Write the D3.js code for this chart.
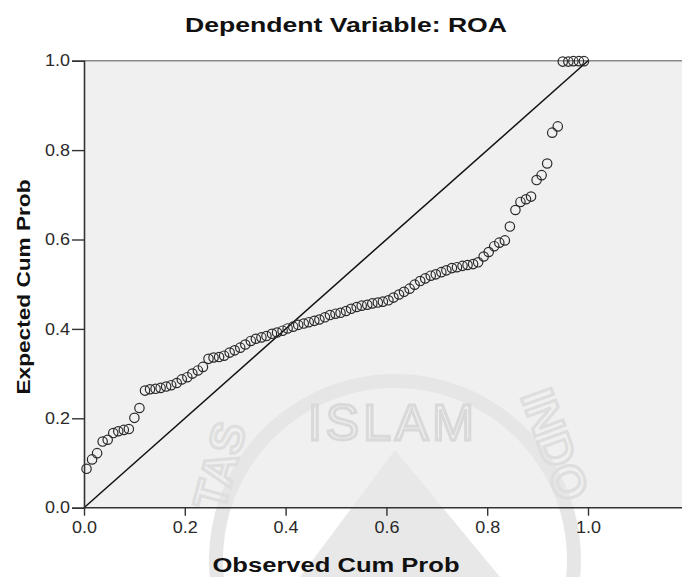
<!DOCTYPE html>
<html>
<head>
<meta charset="utf-8">
<script src="https://cdn.jsdelivr.net/npm/d3@7"></script>
<style>
  body { margin: 0; background: #fff; }
  svg { display: block; font-family: "Liberation Sans", Arial, sans-serif; }
</style>
</head>
<body>
<div id="chart"></div>
<script>
// P-P plot values
var observed = [0.005,0.016,0.026,0.037,0.047,0.058,0.068,0.079,0.089,0.100,
  0.110,0.121,0.131,0.142,0.152,0.163,0.173,0.184,0.194,0.205,
  0.215,0.226,0.236,0.247,0.257,0.268,0.278,0.289,0.299,0.310,
  0.320,0.331,0.341,0.352,0.362,0.373,0.383,0.394,0.404,0.415,
  0.425,0.436,0.446,0.457,0.467,0.478,0.488,0.499,0.509,0.520,
  0.530,0.541,0.551,0.562,0.572,0.583,0.593,0.604,0.614,0.625,
  0.635,0.646,0.656,0.667,0.677,0.688,0.698,0.709,0.719,0.730,
  0.740,0.751,0.761,0.772,0.782,0.793,0.803,0.814,0.824,0.835,
  0.845,0.856,0.866,0.877,0.887,0.898,0.908,0.919,0.929,0.940,
  0.950,0.961,0.971,0.982,0.992];
var expected = [0.087,0.108,0.122,0.148,0.152,0.167,0.171,0.174,0.176,0.201,
  0.223,0.262,0.265,0.266,0.268,0.271,0.274,0.279,0.287,0.292,
  0.300,0.307,0.315,0.333,0.336,0.337,0.340,0.347,0.352,0.358,
  0.365,0.373,0.378,0.381,0.384,0.389,0.392,0.396,0.401,0.405,
  0.409,0.412,0.415,0.418,0.421,0.426,0.431,0.434,0.436,0.440,
  0.445,0.449,0.452,0.454,0.457,0.459,0.461,0.464,0.470,0.477,
  0.483,0.490,0.499,0.507,0.513,0.519,0.522,0.527,0.531,0.536,
  0.538,0.541,0.543,0.545,0.549,0.562,0.572,0.585,0.593,0.598,
  0.629,0.666,0.684,0.690,0.696,0.733,0.744,0.770,0.839,0.853,
  0.998,0.998,0.999,0.999,0.999];
var tickVals = [0, 0.2, 0.4, 0.6, 0.8, 1.0];

var width = 682, height = 577;
var svg = d3.select("#chart").append("svg")
  .attr("width", width).attr("height", height);

var x = d3.scaleLinear().domain([0, 1.2]).range([84, 84 + 1.2 * 504]);
var y = d3.scaleLinear().domain([0, 1]).range([507.7, 60.7]);

// plot background
svg.append("rect")
  .attr("x", x(0)).attr("y", y(1))
  .attr("width", width - x(0)).attr("height", y(0) - y(1))
  .style("fill", "#f0f0f0");

// faint watermark
var wm = svg.append("g");
wm.append("path")
  .attr("d", d3.arc()({innerRadius: 172, outerRadius: 186, startAngle: -1.75, endAngle: 1.75}))
  .attr("transform", "translate(395,560)")
  .style("fill", "#e6e6e6");
wm.append("path")
  .attr("d", "M300,577 L395,450 L500,577 Z")
  .style("fill", "#e8e8e8");
wm.append("text")
  .attr("x", 393).attr("y", 440)
  .attr("text-anchor", "middle")
  .style("font-size", "50px").style("letter-spacing", "4px")
  .style("fill", "none").style("stroke", "#d9d9d9").style("stroke-width", 3)
  .text("ISLAM");
wm.append("text")
  .attr("transform", "translate(235,470) rotate(-75)")
  .attr("text-anchor", "middle")
  .style("font-size", "46px").style("font-weight", "bold")
  .style("fill", "none").style("stroke", "#dedede").style("stroke-width", 3)
  .text("TAS");
wm.append("text")
  .attr("transform", "translate(540,450) rotate(70)")
  .attr("text-anchor", "middle")
  .style("font-size", "46px").style("font-weight", "bold")
  .style("fill", "none").style("stroke", "#dedede").style("stroke-width", 3)
  .text("INDO");

// top frame line
svg.append("line")
  .attr("x1", x(0)).attr("x2", width)
  .attr("y1", y(1)).attr("y2", y(1))
  .style("stroke", "#8a8a8a").style("stroke-width", 1.6);

// reference diagonal
svg.append("line")
  .attr("x1", x(0)).attr("y1", y(0))
  .attr("x2", x(1)).attr("y2", y(1))
  .style("stroke", "#111").style("stroke-width", 1.5);

// points
var pts = observed.map(function(d, i){ return [d, expected[i]]; });
svg.append("g").selectAll("circle")
  .data(pts).enter().append("circle")
  .attr("cx", function(d){ return x(d[0]); })
  .attr("cy", function(d){ return y(d[1]); })
  .attr("r", 4.7)
  .style("fill", "none")
  .style("stroke", "#2a2a2a")
  .style("stroke-width", 1.2);

// axes
var fmt = d3.format(".1f");
var gx = svg.append("g")
  .attr("transform", "translate(0," + y(0) + ")")
  .call(d3.axisBottom(x).tickValues(tickVals).tickFormat(fmt).tickSize(8).tickPadding(6));
gx.select(".domain").attr("d", "M" + x(0) + ",0H" + width);
var gy = svg.append("g")
  .attr("transform", "translate(" + x(0) + ",0)")
  .call(d3.axisLeft(y).tickValues(tickVals).tickFormat(fmt).tickSize(12).tickPadding(2));

svg.selectAll(".domain").style("stroke", "#333").style("stroke-width", 1.6);
svg.selectAll(".tick line").style("stroke", "#333").style("stroke-width", 1.4);
svg.selectAll(".tick text")
  .attr("textLength", 25).attr("lengthAdjust", "spacingAndGlyphs")
  .style("font-size", "16px")
  .style("font-family", "'Liberation Sans', Arial, sans-serif")
  .style("fill", "#2a2a2a");

// titles
svg.append("text")
  .attr("x", 346).attr("y", 32)
  .attr("text-anchor", "middle")
  .attr("textLength", 322).attr("lengthAdjust", "spacingAndGlyphs")
  .style("font-size", "20px").style("font-weight", "bold").style("fill", "#111")
  .text("Dependent Variable: ROA");

svg.append("text")
  .attr("x", 336).attr("y", 572)
  .attr("text-anchor", "middle")
  .attr("textLength", 247).attr("lengthAdjust", "spacingAndGlyphs")
  .style("font-size", "20px").style("font-weight", "bold").style("fill", "#111")
  .text("Observed Cum Prob");

svg.append("text")
  .attr("transform", "translate(30,287) rotate(-90)")
  .attr("text-anchor", "middle")
  .attr("textLength", 215).attr("lengthAdjust", "spacingAndGlyphs")
  .style("font-size", "19px").style("font-weight", "bold").style("fill", "#111")
  .text("Expected Cum Prob");
</script>
</body>
</html>
